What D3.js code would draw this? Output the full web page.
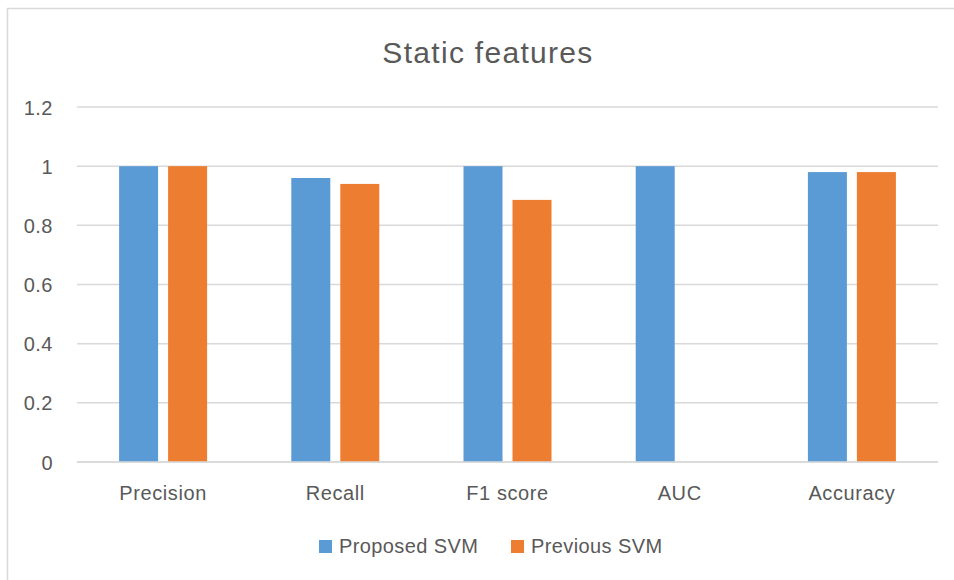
<!DOCTYPE html>
<html>
<head>
<meta charset="utf-8">
<script src="https://cdn.jsdelivr.net/npm/d3@7"></script>
<style>
  html, body { margin: 0; padding: 0; background: #fff; }
  svg { display: block; font-family: "Liberation Sans", Arial, sans-serif; }
</style>
</head>
<body>
<svg id="chart" width="954" height="580"></svg>
<script>
const categories = ["Precision", "Recall", "F1 score", "AUC", "Accuracy"];
const seriesNames = ["Proposed SVM", "Previous SVM"];
const proposedSVM = [1, 0.96, 1, 1, 0.98];
const previousSVM = [1, 0.94, 0.886, null, 0.98];
const yTicks = [0, 0.2, 0.4, 0.6, 0.8, 1, 1.2];
const yTickLabels = ["0", "0.2", "0.4", "0.6", "0.8", "1", "1.2"];
const colors = ["#5B9BD5", "#ED7D31"];
const title = "Static features";

const svg = d3.select("#chart");
const textColor = "#595959";
const gridColor = "#d9d9d9";

// chart border
svg.append("rect")
  .attr("x", 7.5).attr("y", 8.5)
  .attr("width", 960).attr("height", 600)
  .attr("fill", "#fff")
  .attr("stroke", gridColor).attr("stroke-width", 1.5);

const plot = { left: 77, right: 938, top: 107, bottom: 462 };

const x0 = d3.scaleBand().domain(categories).range([plot.left, plot.right]).padding(0);
const y = d3.scaleLinear().domain([0, 1.2]).range([plot.bottom, plot.top]);

// gridlines
svg.append("g").selectAll("line")
  .data(yTicks)
  .join("line")
  .attr("x1", plot.left).attr("x2", plot.right)
  .attr("y1", d => y(d)).attr("y2", d => y(d))
  .attr("stroke", gridColor).attr("stroke-width", 1.5);

// y tick labels
svg.append("g").selectAll("text")
  .data(yTicks)
  .join("text")
  .attr("x", 53)
  .attr("y", d => y(d) + 7.5)
  .attr("text-anchor", "end")
  .attr("fill", textColor)
  .attr("font-size", 20)
  .attr("letter-spacing", 0.5)
  .text((d, i) => yTickLabels[i]);

// bars
const barW = 39, gap = 10;
const x1 = d3.scaleBand().domain(seriesNames).range([0, barW * 2 + gap]).paddingInner(gap / (barW + gap)).paddingOuter(0);
const series = [proposedSVM, previousSVM];
const rows = [];
categories.forEach((c, ci) => {
  series.forEach((s, si) => {
    if (s[ci] != null) rows.push({ cat: c, name: seriesNames[si], v: s[ci], si });
  });
});
const groupOffset = (x0.bandwidth() - (barW * 2 + gap)) / 2;
svg.append("g").selectAll("rect")
  .data(rows)
  .join("rect")
  .attr("x", d => x0(d.cat) + groupOffset + x1(d.name))
  .attr("y", d => y(d.v))
  .attr("width", x1.bandwidth())
  .attr("height", d => y(0) - y(d.v))
  .attr("fill", d => colors[d.si]);

// redraw zero line on top
svg.append("line")
  .attr("x1", plot.left).attr("x2", plot.right)
  .attr("y1", y(0)).attr("y2", y(0))
  .attr("stroke", gridColor).attr("stroke-width", 1.5);

// category labels
svg.append("g").selectAll("text")
  .data(categories)
  .join("text")
  .attr("x", d => x0(d) + x0.bandwidth() / 2)
  .attr("y", 500)
  .attr("text-anchor", "middle")
  .attr("fill", textColor)
  .attr("font-size", 20)
  .attr("letter-spacing", 0.6)
  .text(d => d);

// title
svg.append("text")
  .attr("x", 488).attr("y", 63)
  .attr("text-anchor", "middle")
  .attr("fill", textColor)
  .attr("font-size", 30)
  .attr("letter-spacing", 1.3)
  .text(title);

// legend
const legendItems = [
  { name: seriesNames[0], color: colors[0], x: 319 },
  { name: seriesNames[1], color: colors[1], x: 511 }
];
const lg = svg.append("g").selectAll("g").data(legendItems).join("g");
lg.append("rect")
  .attr("x", d => d.x).attr("y", 540)
  .attr("width", 13).attr("height", 13)
  .attr("fill", d => d.color);
lg.append("text")
  .attr("x", d => d.x + 20).attr("y", 553)
  .attr("fill", textColor)
  .attr("font-size", 20)
  .attr("letter-spacing", 0.4)
  .text(d => d.name);
</script>
</body>
</html>
